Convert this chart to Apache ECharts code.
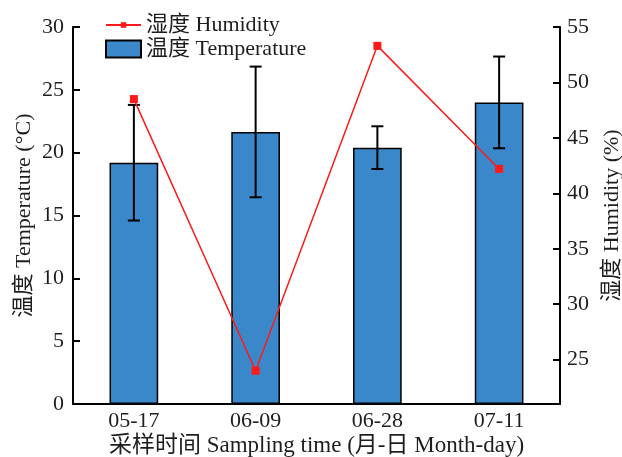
<!DOCTYPE html>
<html>
<head>
<meta charset="utf-8">
<script src="https://cdn.jsdelivr.net/npm/echarts@6/dist/echarts.min.js"></script>
<style>
  html, body { margin: 0; padding: 0; background: #fff; }
  #chart { width: 622px; height: 457px; }
</style>
</head>
<body>
<div id="chart"></div>
<script>
// Sampling dates and measurements
const categories = ['05-17', '06-09', '06-28', '07-11'];
const temperature = [19.2, 21.65, 20.4, 24.0];      // mean temperature (°C)
const temperatureErr = [4.6, 5.2, 1.7, 3.65];       // standard deviation
const humidity = [48.5, 24.0, 53.3, 42.2];          // relative humidity (%)
const leftTicks = [0, 5, 10, 15, 20, 25, 30];
const rightTicks = [25, 30, 35, 40, 45, 50, 55];

const FONT = '"Liberation Serif", "Times New Roman", "Noto Sans CJK SC", serif';
const TEXT = '#1e1e1e';
const FS = 22;

const chart = echarts.init(document.getElementById('chart'), null, { renderer: 'canvas' });

const errData = categories.map((c, i) => [i, temperature[i] - temperatureErr[i], temperature[i] + temperatureErr[i]]);

const legendText = { fontFamily: FONT, fontSize: FS, color: TEXT };

chart.setOption({
  animation: false,
  textStyle: { fontFamily: FONT },
  grid: { left: 73, right: 62, top: 27, bottom: 53, containLabel: false, outerBoundsMode: 'none' },
  legend: [
    {
      left: 100,
      top: 9,
      itemWidth: 35,
      itemHeight: 7,
      textStyle: legendText,
      data: ['湿度 Humidity']
    },
    {
      left: 100,
      top: 33,
      itemWidth: 35,
      itemHeight: 17,
      textStyle: legendText,
      data: [{ name: '温度 Temperature', icon: 'rect' }]
    }
  ],
  xAxis: {
    type: 'category',
    data: categories,
    boundaryGap: true,
    axisLine: { lineStyle: { color: '#000', width: 2 } },
    axisTick: { inside: true, alignWithLabel: true, length: 7, lineStyle: { color: '#000', width: 2 } },
    axisLabel: { fontFamily: FONT, fontSize: FS, color: TEXT, margin: 6 },
    name: '采样时间 Sampling time (月-日 Month-day)',
    nameLocation: 'middle',
    nameMoveOverlap: false,
    nameGap: 30,
    nameTextStyle: { fontFamily: FONT, fontSize: 23, color: TEXT }
  },
  yAxis: [
    {
      type: 'value',
      min: 0, max: 30,
      axisLine: { show: true, lineStyle: { color: '#000', width: 2 } },
      axisTick: { show: true, inside: true, length: 7, lineStyle: { color: '#000', width: 2 }, customValues: leftTicks },
      axisLabel: { fontFamily: FONT, fontSize: FS, color: TEXT, margin: 9, customValues: leftTicks },
      splitLine: { show: false },
      name: '温度 Temperature (°C)',
      nameLocation: 'middle',
      nameMoveOverlap: false,
      nameRotate: 90,
      nameGap: 38,
      nameTextStyle: { fontFamily: FONT, fontSize: FS, color: TEXT }
    },
    {
      type: 'value',
      min: 21, max: 55,
      position: 'right',
      axisLine: { show: true, lineStyle: { color: '#000', width: 2 } },
      axisTick: { show: true, inside: true, length: 7, lineStyle: { color: '#000', width: 2 }, customValues: rightTicks },
      axisLabel: { fontFamily: FONT, fontSize: FS, color: TEXT, margin: 7, customValues: rightTicks },
      splitLine: { show: false },
      name: '湿度 Humidity (%)',
      nameLocation: 'middle',
      nameMoveOverlap: false,
      nameRotate: 90,
      nameGap: 41,
      nameTextStyle: { fontFamily: FONT, fontSize: FS, color: TEXT }
    }
  ],
  series: [
    {
      name: '温度 Temperature',
      type: 'bar',
      yAxisIndex: 0,
      data: temperature,
      barWidth: '40%',
      itemStyle: { color: '#3a88c9', borderColor: '#000', borderWidth: 1.5 },
      z: 2
    },
    {
      name: 'err',
      type: 'custom',
      yAxisIndex: 0,
      data: errData,
      z: 3,
      renderItem: function (params, api) {
        const x = api.value(0);
        const lo = api.coord([x, api.value(1)]);
        const hi = api.coord([x, api.value(2)]);
        const cap = 6;
        const style = { stroke: '#000', lineWidth: 2 };
        return {
          type: 'group',
          children: [
            { type: 'line', shape: { x1: lo[0], y1: lo[1], x2: hi[0], y2: hi[1] }, style },
            { type: 'line', shape: { x1: lo[0] - cap, y1: lo[1], x2: lo[0] + cap, y2: lo[1] }, style },
            { type: 'line', shape: { x1: hi[0] - cap, y1: hi[1], x2: hi[0] + cap, y2: hi[1] }, style }
          ]
        };
      }
    },
    {
      name: '湿度 Humidity',
      type: 'line',
      yAxisIndex: 1,
      data: humidity,
      symbol: 'rect',
      symbolSize: 8,
      lineStyle: { color: '#ff1a1a', width: 1.5 },
      itemStyle: { color: '#ff1a1a' },
      z: 4
    }
  ]
});
</script>
</body>
</html>
